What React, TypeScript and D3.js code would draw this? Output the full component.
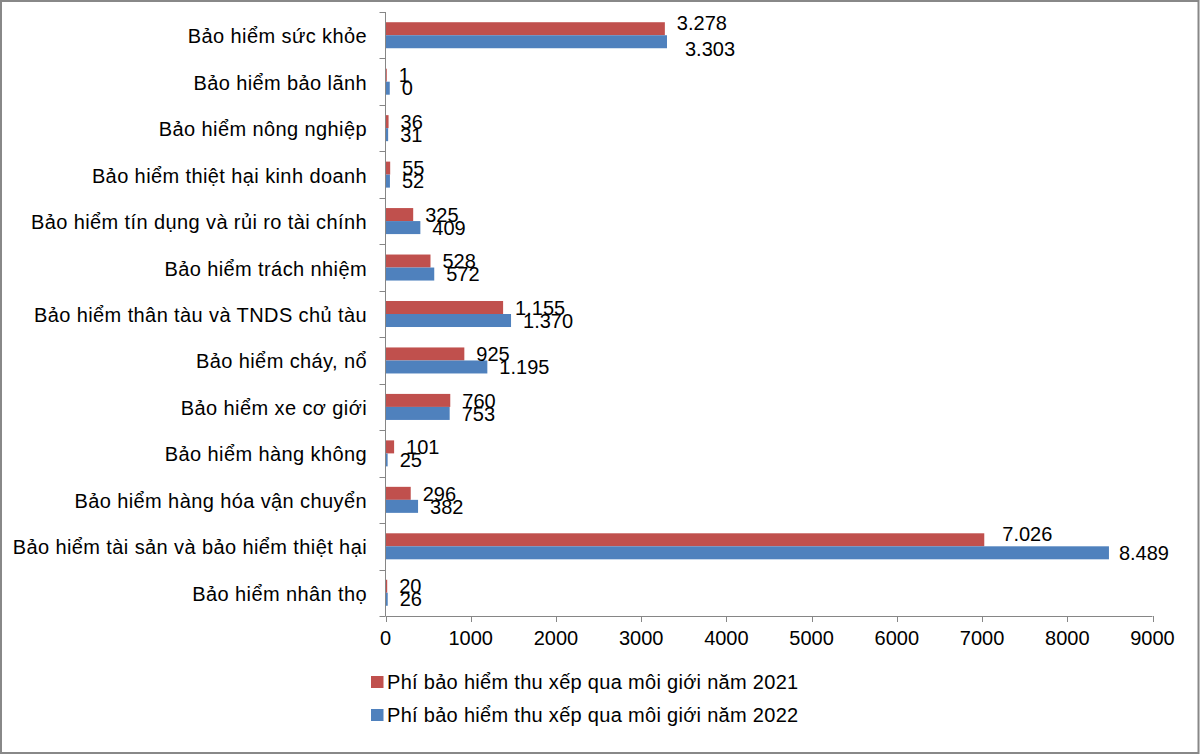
import React from "react";
import * as d3 from "d3";

const categories: string[] = [
  "Bảo hiểm sức khỏe",
  "Bảo hiểm bảo lãnh",
  "Bảo hiểm nông nghiệp",
  "Bảo hiểm thiệt hại kinh doanh",
  "Bảo hiểm tín dụng và rủi ro tài chính",
  "Bảo hiểm trách nhiệm",
  "Bảo hiểm thân tàu và TNDS chủ tàu",
  "Bảo hiểm cháy, nổ",
  "Bảo hiểm xe cơ giới",
  "Bảo hiểm hàng không",
  "Bảo hiểm hàng hóa vận chuyển",
  "Bảo hiểm tài sản và bảo hiểm thiệt hại",
  "Bảo hiểm nhân thọ",
];

// bar lengths as drawn in the picture
const values2021: number[] = [3278, 15, 36, 55, 325, 528, 1380, 925, 760, 101, 296, 7026, 20];
const values2022: number[] = [3303, 50, 31, 52, 409, 572, 1473, 1195, 753, 25, 382, 8489, 26];

// data labels as printed
const labels2021: string[] = ["3.278", "1", "36", "55", "325", "528", "1.155", "925", "760", "101", "296", "7.026", "20"];
const labels2022: string[] = ["3.303", "0", "31", "52", "409", "572", "1.370", "1.195", "753", "25", "382", "8.489", "26"];

const xTicks: number[] = [0, 1000, 2000, 3000, 4000, 5000, 6000, 7000, 8000, 9000];

const seriesNames: string[] = [
  "Phí bảo hiểm thu xếp qua môi giới năm 2021",
  "Phí bảo hiểm thu xếp qua môi giới năm 2022",
];

// manual label nudges (style), keyed by category index: [dx, dy]
const nudge2021: Record<number, [number, number]> = { 0: [0, -6], 11: [6, -6] };
const nudge2022: Record<number, [number, number]> = { 0: [6, 7], 11: [-2, 0] };

const W = 1200;
const H = 754;
const plotLeft = 385.5;
const plotRight = 1152.5;
const plotTop = 12;
const plotBottom = 616;
const RED = "#C0504D";
const BLUE = "#4F81BD";
const AXIS = "#868686";
const FONT = "'Liberation Sans', Arial, sans-serif";
const FS = 20;

export default function App() {
  const x = d3.scaleLinear().domain([0, 9000]).range([plotLeft, plotRight]);
  const y = d3
    .scaleBand<string>()
    .domain(categories)
    .range([plotTop, plotBottom])
    .paddingInner(0.44)
    .paddingOuter(0.22);
  const bw = y.bandwidth();
  const half = bw / 2;
  const step = y.step();
  const boundaries = d3.range(categories.length + 1).map((i) => plotTop + i * step);

  return (
    <svg
      width={W}
      height={H}
      style={{ position: "absolute", left: 0, top: 0, background: "#fff" }}
      fontFamily={FONT}
    >
      <rect x={0} y={0} width={W} height={H} fill="#fff" />
      <rect x={1} y={1} width={W - 2.5} height={H - 2} fill="none" stroke="#888888" strokeWidth={2} />

      {/* bars */}
      {categories.map((c, i) => {
        const y0 = y(c) as number;
        return (
          <g key={c}>
            <rect x={x(0)} y={y0} width={x(values2021[i]) - x(0)} height={half} fill={RED} />
            <rect x={x(0)} y={y0 + half} width={x(values2022[i]) - x(0)} height={half} fill={BLUE} />
          </g>
        );
      })}

      {/* axes */}
      <line x1={plotLeft} x2={plotLeft} y1={plotTop} y2={plotBottom} stroke={AXIS} strokeWidth={1} />
      <line x1={plotLeft} x2={plotRight} y1={plotBottom + 0.5} y2={plotBottom + 0.5} stroke={AXIS} strokeWidth={1} />
      {boundaries.map((b, i) => (
        <line key={i} x1={plotLeft - 6} x2={plotLeft} y1={Math.round(b) + 0.5} y2={Math.round(b) + 0.5} stroke={AXIS} strokeWidth={1} />
      ))}
      {xTicks.map((t) => (
        <g key={t}>
          <line x1={Math.round(x(t)) + 0.5} x2={Math.round(x(t)) + 0.5} y1={plotBottom} y2={plotBottom + 6} stroke={AXIS} strokeWidth={1} />
          <text x={x(t)} y={plotBottom + 29} textAnchor="middle" fontSize={FS} fill="#000">
            {t}
          </text>
        </g>
      ))}

      {/* category labels */}
      {categories.map((c) => (
        <text
          key={c}
          x={367}
          y={(y(c) as number) + half}
          dy="0.4em"
          textAnchor="end"
          fontSize={FS}
          letterSpacing={0.4}
          fill="#000"
        >
          {c}
        </text>
      ))}

      {/* value labels */}
      {categories.map((c, i) => {
        const y0 = y(c) as number;
        const n1 = nudge2021[i] || [0, 0];
        const n2 = nudge2022[i] || [0, 0];
        return (
          <g key={"l" + c}>
            <text x={x(values2021[i]) + 12 + n1[0]} y={y0 + half / 2 + n1[1]} dy="0.36em" fontSize={FS} fill="#000">
              {labels2021[i]}
            </text>
            <text x={x(values2022[i]) + 12 + n2[0]} y={y0 + half * 1.5 + n2[1]} dy="0.36em" fontSize={FS} fill="#000">
              {labels2022[i]}
            </text>
          </g>
        );
      })}

      {/* legend */}
      {seriesNames.map((s, i) => (
        <g key={s} transform={`translate(371, ${676 + i * 33})`}>
          <rect x={0} y={0} width={12.5} height={12} fill={i === 0 ? RED : BLUE} />
          <text x={16} y={6} dy="0.36em" fontSize={FS} letterSpacing={0.3} fill="#000">
            {s}
          </text>
        </g>
      ))}
    </svg>
  );
}
